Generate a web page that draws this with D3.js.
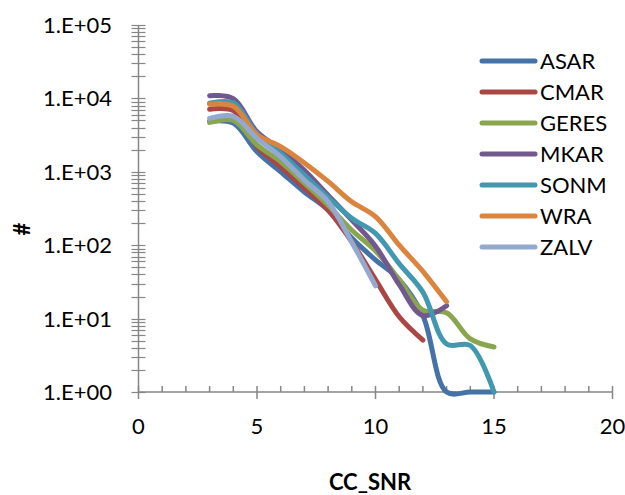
<!DOCTYPE html>
<html>
<head>
<meta charset="utf-8">
<script src="https://cdn.jsdelivr.net/npm/d3@7"></script>
<style>
  html, body { margin: 0; padding: 0; background: #fff; }
  svg { display: block; }
  text { font-family: Lato, "Liberation Sans", sans-serif; fill: #000; }
</style>
</head>
<body>
<svg id="chart" width="625" height="495"></svg>
<script>
// ---- data ----
const snr = [3, 4, 5, 6, 7, 8, 9, 10, 11, 12, 13, 14, 15];
const seriesNames = ["ASAR", "CMAR", "GERES", "MKAR", "SONM", "WRA", "ZALV"];
const seriesColors = ["#4572A7", "#AA4643", "#89A54E", "#71588F", "#4198AF", "#DB843D", "#93A9CF"];
const ASAR  = [4900, 4600, 1880, 1000, 530, 300, 125, 63, 34, 11, 1, 1, 1];
const CMAR  = [7100, 6800, 2200, 1170, 600, 300, 111, 34, 10.6, 5.1];
const GERES = [4700, 5000, 2330, 1370, 700, 350, 160, 84, 34, 13, 12, 5.3, 4.1];
const MKAR  = [10900, 9900, 3500, 1990, 1050, 480, 220, 97, 29, 11, 15];
const SONM  = [8600, 8700, 3300, 1800, 900, 450, 233, 145, 56, 23, 4.5, 4.3, 1];
const WRA   = [8300, 7800, 3200, 2200, 1320, 740, 390, 245, 100, 44, 17];
const ZALV  = [5350, 5700, 2860, 1600, 770, 390, 110, 28];
const seriesValues = [ASAR, CMAR, GERES, MKAR, SONM, WRA, ZALV];
const xTicks = [0, 5, 10, 15, 20];
const yTickLabels = ["1.E+00", "1.E+01", "1.E+02", "1.E+03", "1.E+04", "1.E+05"];
const xTitle = "CC_SNR";
const yTitle = "#";

// ---- layout ----
const svg = d3.select("#chart");
const axisColor = "#868686";
const x = d3.scaleLinear().domain([0, 20]).range([138.5, 612.5]);
const y = d3.scaleLog().domain([1, 1e5]).range([392, 25]);

// y axis line
svg.append("line").attr("x1", x(0)).attr("x2", x(0)).attr("y1", y(1)).attr("y2", y(1e5))
  .attr("stroke", axisColor).attr("stroke-width", 1.5);
// y ticks (major + minor, crossing)
const yTickVals = [];
for (let e = 0; e < 5; e++) for (let m = 1; m < 10; m++) yTickVals.push(m * Math.pow(10, e));
yTickVals.push(1e5);
svg.append("g").selectAll("line").data(yTickVals).join("line")
  .attr("x1", x(0) - 7).attr("x2", x(0) + 7)
  .attr("y1", d => Math.round(y(d)) + 0.5).attr("y2", d => Math.round(y(d)) + 0.5)
  .attr("stroke", axisColor).attr("stroke-width", 1.2);
// y tick labels
svg.append("g").selectAll("text").data(yTickLabels).join("text")
  .attr("x", 112).attr("y", (d, i) => y(Math.pow(10, i)))
  .attr("dy", "0.36em").attr("text-anchor", "end")
  .style("font-size", "22px").text(d => d);

// x axis line
svg.append("line").attr("x1", x(0)).attr("x2", x(20)).attr("y1", y(1)).attr("y2", y(1))
  .attr("stroke", axisColor).attr("stroke-width", 1.5);
const xMinor = d3.range(0, 21);
svg.append("g").selectAll("line").data(xMinor).join("line")
  .attr("x1", d => x(d)).attr("x2", d => x(d))
  .attr("y1", y(1) - 6).attr("y2", d => xTicks.includes(d) ? y(1) + 7 : y(1))
  .attr("stroke", axisColor).attr("stroke-width", 1.5);
svg.append("g").selectAll("text").data(xTicks).join("text")
  .attr("x", d => x(d)).attr("y", 434)
  .attr("text-anchor", "middle").style("font-size", "22px").text(d => d);

// axis titles
svg.append("text").attr("x", 370).attr("y", 490).attr("text-anchor", "middle")
  .style("font-size", "22px").style("font-weight", "bold").text(xTitle);
svg.append("text").attr("transform", "translate(30,229) rotate(-90)")
  .attr("text-anchor", "middle").style("font-size", "22px").style("font-weight", "bold").text(yTitle);

// series
const line = d3.line()
  .x((d, i) => x(snr[i]))
  .y(d => y(d))
  .curve(d3.curveCatmullRom.alpha(0.5));
svg.append("g").selectAll("path").data(seriesValues).join("path")
  .attr("d", d => line(d))
  .attr("fill", "none")
  .attr("stroke", (d, i) => seriesColors[i])
  .attr("stroke-width", 5)
  .attr("stroke-linecap", "round")
  .attr("stroke-linejoin", "round");

// legend
const leg = svg.append("g").selectAll("g").data(seriesNames).join("g")
  .attr("transform", (d, i) => `translate(0,${61 + i * 31})`);
leg.append("line").attr("x1", 482).attr("x2", 535).attr("y1", 0).attr("y2", 0)
  .attr("stroke", (d, i) => seriesColors[i]).attr("stroke-width", 5).attr("stroke-linecap", "round");
leg.append("text").attr("x", 540).attr("y", 0).attr("dy", "0.36em")
  .style("font-size", "22px").text(d => d);
</script>
</body>
</html>
